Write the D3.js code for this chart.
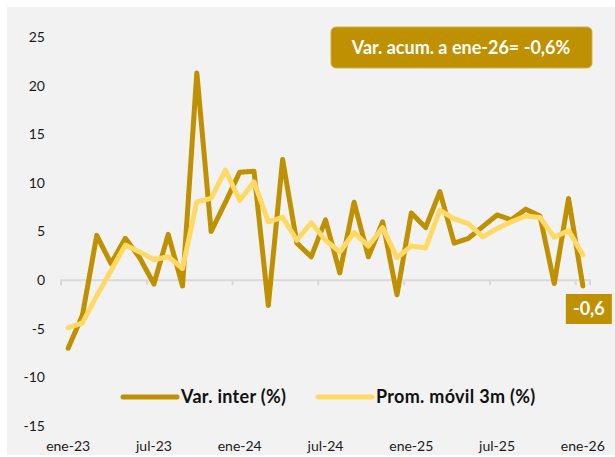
<!DOCTYPE html>
<html>
<head>
<meta charset="utf-8">
<script src="https://cdn.jsdelivr.net/npm/d3@7"></script>
<style>
  body { margin: 0; background: #fff; }
  svg { display: block; font-family: Lato, "Open Sans", sans-serif; }
</style>
</head>
<body>
<div id="chart"></div>
<script>
const MONTHS = ["ene", "feb", "mar", "abr", "may", "jun", "jul", "ago", "sep", "oct", "nov", "dic"];
const CATEGORIES = [];
for (let y = 23; y <= 26; y++) {
    MONTHS.forEach(m => { if (!(y === 26 && m !== "ene")) CATEGORIES.push(m + "-" + y); });
}

const VAR_INTER = [-7.0, -3.6, 4.6, 1.7, 4.3, 2.3, -0.4, 4.7, -0.6, 21.3, 5.0, 8.0,
                   11.1, 11.2, -2.6, 12.4, 3.8, 2.4, 6.2, 0.75, 8.0, 2.4, 6.0, -1.5,
                   6.9, 5.4, 9.1, 3.8, 4.3, 5.5, 6.7, 6.2, 7.3, 6.6, -0.35, 8.4,
                   -0.6];
const PROM_3M = [-4.9, -4.4, -1.6, 1.0, 3.6, 2.9, 2.1, 2.4, 1.2, 8.05, 8.4, 11.3,
                 8.2, 10.1, 6.0, 6.45, 4.1, 5.9, 4.1, 2.9, 4.9, 3.5, 5.4, 2.3,
                 3.5, 3.3, 7.2, 6.3, 5.8, 4.45, 5.3, 6.0, 6.6, 6.45, 4.4, 5.1,
                 2.6];
const Y_TICKS = [-15, -10, -5, 0, 5, 10, 15, 20, 25];
const X_TICK_LABELS = ["ene-23", "jul-23", "ene-24", "jul-24", "ene-25", "jul-25", "ene-26"];
const SERIES_NAMES = ["Var. inter (%)", "Prom. móvil 3m (%)"];
const LAST_LABEL = "-0,6";
const NOTE = "Var. acum. a ene-26= -0,6%";

const DARK = "#BF9000";
const LIGHT = "#FFD966";

const width = 615, height = 457;

const svg = d3.select("#chart")
    .append("svg")
        .attr("width", width)
        .attr("height", height);

// plot background
svg.append("rect")
    .attr("x", 7).attr("y", 7)
    .attr("width", width - 7).attr("height", height - 9)
    .attr("fill", "#F2F2F2");

const x = d3.scaleBand()
    .domain(CATEGORIES)
    .range([61, 590]);

const y = d3.scaleLinear()
    .domain([-15, 25])
    .range([426, 37]);

// y tick labels
svg.append("g")
    .selectAll("text")
    .data(Y_TICKS)
    .enter()
    .append("text")
        .attr("x", 45)
        .attr("y", d => y(d))
        .attr("dy", "0.35em")
        .attr("text-anchor", "end")
        .style("font-size", "14px")
        .style("fill", "#1a1a1a")
        .text(d => d);

// zero axis line with tick marks between categories
const axis = d3.axisBottom(x)
    .tickValues(CATEGORIES.filter((d, i) => i % 6 === 0))
    .tickSize(5)
    .tickFormat("");

const axisG = svg.append("g")
    .attr("transform", `translate(0,${y(0)})`)
    .call(axis);
axisG.select(".domain").attr("stroke", "#D9D9D9").attr("stroke-width", 2).attr("d", `M61,5V0H590V5`);
axisG.selectAll(".tick")
    .attr("transform", d => `translate(${x(d)},0)`);
axisG.selectAll(".tick line").attr("stroke", "#D9D9D9").attr("stroke-width", 2);

// x tick labels at the bottom
svg.append("g")
    .selectAll("text")
    .data(X_TICK_LABELS)
    .enter()
    .append("text")
        .attr("x", d => x(d) + x.bandwidth() / 2)
        .attr("y", 446)
        .attr("dy", "0.35em")
        .attr("text-anchor", "middle")
        .style("font-size", "14px")
        .style("fill", "#1a1a1a")
        .text(d => d);

const line = d3.line()
    .x((d, i) => x(CATEGORIES[i]) + x.bandwidth() / 2)
    .y(d => y(d));

svg.append("path")
    .datum(VAR_INTER)
    .attr("d", line)
    .attr("fill", "none")
    .attr("stroke", DARK)
    .attr("stroke-width", 5)
    .attr("stroke-linejoin", "round")
    .attr("stroke-linecap", "round");

svg.append("path")
    .datum(PROM_3M)
    .attr("d", line)
    .attr("fill", "none")
    .attr("stroke", LIGHT)
    .attr("stroke-width", 5)
    .attr("stroke-linejoin", "round")
    .attr("stroke-linecap", "round");

// label for last value
const lastX = x(CATEGORIES[CATEGORIES.length - 1]) + x.bandwidth() / 2;
svg.append("rect")
    .attr("x", lastX - 17).attr("y", 294)
    .attr("width", 46).attr("height", 30)
    .attr("fill", DARK);
svg.append("text")
    .attr("x", lastX + 6).attr("y", 309)
    .attr("dy", "0.35em")
    .attr("text-anchor", "middle")
    .style("font-size", "18px")
    .style("font-weight", "bold")
    .style("fill", "#fff")
    .text(LAST_LABEL);

// accumulated variation note
svg.append("rect")
    .attr("x", 331).attr("y", 27)
    .attr("width", 261).attr("height", 41)
    .attr("rx", 5)
    .attr("fill", DARK)
    .attr("stroke", "#D4B04A")
    .attr("stroke-width", 1);
svg.append("text")
    .attr("x", 461).attr("y", 48)
    .attr("dy", "0.35em")
    .attr("text-anchor", "middle")
    .style("font-size", "18px")
    .style("font-weight", "bold")
    .style("fill", "#fff")
    .text(NOTE);

// legend
const legend = [
    {name: SERIES_NAMES[0], color: DARK, x: 123},
    {name: SERIES_NAMES[1], color: LIGHT, x: 318}
];
const lg = svg.append("g").selectAll("g")
    .data(legend)
    .enter()
    .append("g")
        .attr("transform", d => `translate(${d.x},397)`);
lg.append("line")
    .attr("x1", 0).attr("x2", 54)
    .attr("stroke", d => d.color)
    .attr("stroke-width", 5)
    .attr("stroke-linecap", "round");
lg.append("text")
    .attr("x", 58)
    .attr("dy", "0.35em")
    .style("font-size", "18px")
    .style("font-weight", "bold")
    .style("letter-spacing", "0.3px")
    .style("fill", "#111")
    .text(d => d.name);
</script>
</body>
</html>
